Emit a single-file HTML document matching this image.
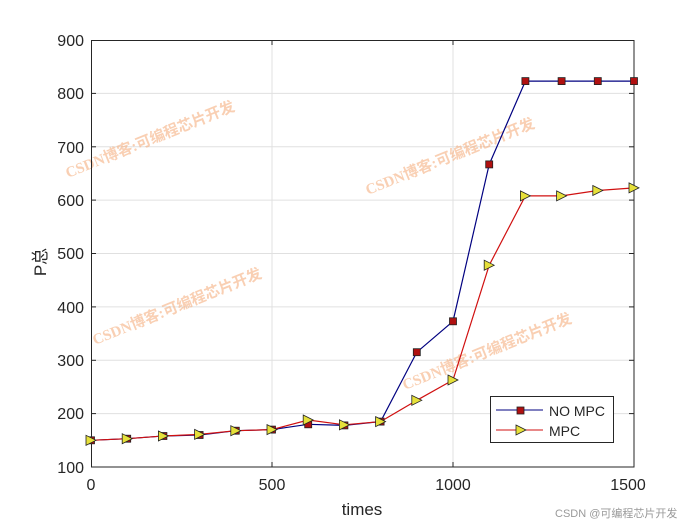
<!DOCTYPE html><html><head><style>body{margin:0;background:#fff}svg{font-family:"Liberation Sans",sans-serif}</style></head><body>
<svg width="700" height="525" xmlns="http://www.w3.org/2000/svg">
<rect width="700" height="525" fill="#fff"/>
<g stroke="#e0e0e0" stroke-width="1">
<line x1="272" y1="40" x2="272" y2="467"/><line x1="453" y1="40" x2="453" y2="467"/>
<line x1="91" y1="93.4" x2="634" y2="93.4"/><line x1="91" y1="146.8" x2="634" y2="146.8"/><line x1="91" y1="200.1" x2="634" y2="200.1"/><line x1="91" y1="253.5" x2="634" y2="253.5"/><line x1="91" y1="306.9" x2="634" y2="306.9"/><line x1="91" y1="360.3" x2="634" y2="360.3"/><line x1="91" y1="413.6" x2="634" y2="413.6"/>
</g>
<g fill="#f5b080" opacity="0.6" font-size="15" font-weight="bold" font-family="'Liberation Serif','Noto Sans CJK SC',serif">
<text transform="translate(68,178) rotate(-22)">CSDN博客:可编程芯片开发</text>
<text transform="translate(368,195) rotate(-22)">CSDN博客:可编程芯片开发</text>
<text transform="translate(95,345) rotate(-22)">CSDN博客:可编程芯片开发</text>
<text transform="translate(405,390) rotate(-22)">CSDN博客:可编程芯片开发</text>
</g>
<rect x="91.5" y="40.5" width="542.5" height="426.5" fill="none" stroke="#262626"/>
<g stroke="#262626"><line x1="272" y1="467" x2="272" y2="462"/><line x1="453" y1="467" x2="453" y2="462"/><line x1="272" y1="40" x2="272" y2="45"/><line x1="453" y1="40" x2="453" y2="45"/>
<line x1="91" y1="93.4" x2="96" y2="93.4"/><line x1="91" y1="146.8" x2="96" y2="146.8"/><line x1="91" y1="200.1" x2="96" y2="200.1"/><line x1="91" y1="253.5" x2="96" y2="253.5"/><line x1="91" y1="306.9" x2="96" y2="306.9"/><line x1="91" y1="360.3" x2="96" y2="360.3"/><line x1="91" y1="413.6" x2="96" y2="413.6"/>
<line x1="634" y1="93.4" x2="629" y2="93.4"/><line x1="634" y1="146.8" x2="629" y2="146.8"/><line x1="634" y1="200.1" x2="629" y2="200.1"/><line x1="634" y1="253.5" x2="629" y2="253.5"/><line x1="634" y1="306.9" x2="629" y2="306.9"/><line x1="634" y1="360.3" x2="629" y2="360.3"/><line x1="634" y1="413.6" x2="629" y2="413.6"/></g>
<g font-size="16" fill="#262626" text-anchor="end">
<text x="84" y="46">900</text><text x="84" y="99">800</text><text x="84" y="153">700</text><text x="84" y="206">600</text><text x="84" y="259">500</text><text x="84" y="313">400</text><text x="84" y="366">300</text><text x="84" y="419">200</text><text x="84" y="473">100</text></g>
<g font-size="16" fill="#262626" text-anchor="middle"><text x="91" y="490">0</text><text x="272" y="490">500</text><text x="453" y="490">1000</text><text x="628" y="490">1500</text>
<text x="362" y="515" font-size="17">times</text></g>
<text transform="translate(46,262) rotate(-90)" font-size="17" fill="#262626" text-anchor="middle" font-family="'Liberation Sans','Noto Sans CJK SC',sans-serif">P总</text>
<polyline fill="none" stroke="#000080" stroke-width="1.2" points="91,440.3 127.2,438.7 163.4,436 199.6,435 235.8,430.7 272,429.6 308.2,424.3 344.4,425.4 380.6,421.6 416.8,352.2 453,321.3 489.2,164.4 525.4,81.1 561.6,81.1 597.8,81.1 634,81.1"/>
<polyline fill="none" stroke="#d01010" stroke-width="1.2" points="91,440.3 127.2,438.7 163.4,436 199.6,434.4 235.8,430.7 272,429.6 308.2,420 344.4,424.8 380.6,421.6 416.8,400.3 453,380 489.2,265.2 525.4,195.9 561.6,195.9 597.8,190.5 634,187.9"/>
<g fill="#b01010" stroke="#222" stroke-width="0.8">
<rect x="87.5" y="436.8" width="7" height="7"/><rect x="123.7" y="435.2" width="7" height="7"/><rect x="159.9" y="432.5" width="7" height="7"/><rect x="196.1" y="431.5" width="7" height="7"/><rect x="232.3" y="427.2" width="7" height="7"/><rect x="268.5" y="426.1" width="7" height="7"/><rect x="304.7" y="420.8" width="7" height="7"/><rect x="340.9" y="421.9" width="7" height="7"/><rect x="377.1" y="418.1" width="7" height="7"/><rect x="413.3" y="348.7" width="7" height="7"/><rect x="449.5" y="317.8" width="7" height="7"/><rect x="485.7" y="160.9" width="7" height="7"/><rect x="521.9" y="77.6" width="7" height="7"/><rect x="558.1" y="77.6" width="7" height="7"/><rect x="594.3" y="77.6" width="7" height="7"/><rect x="630.5" y="77.6" width="7" height="7"/></g>
<g fill="#e6e03a" stroke="#222" stroke-width="0.8">
<path d="M86,435.3 L96,440.3 86,445.3Z"/><path d="M122.2,433.7 L132.2,438.7 122.2,443.7Z"/><path d="M158.4,431 L168.4,436 158.4,441Z"/><path d="M194.6,429.4 L204.6,434.4 194.6,439.4Z"/><path d="M230.8,425.7 L240.8,430.7 230.8,435.7Z"/><path d="M267,424.6 L277,429.6 267,434.6Z"/><path d="M303.2,415 L313.2,420 303.2,425Z"/><path d="M339.4,419.8 L349.4,424.8 339.4,429.8Z"/><path d="M375.6,416.6 L385.6,421.6 375.6,426.6Z"/><path d="M411.8,395.3 L421.8,400.3 411.8,405.3Z"/><path d="M448,375 L458,380 448,385Z"/><path d="M484.2,260.2 L494.2,265.2 484.2,270.2Z"/><path d="M520.4,190.9 L530.4,195.9 520.4,200.9Z"/><path d="M556.6,190.9 L566.6,195.9 556.6,200.9Z"/><path d="M592.8,185.5 L602.8,190.5 592.8,195.5Z"/><path d="M629,182.9 L639,187.9 629,192.9Z"/></g>
<rect x="490.5" y="396.5" width="123" height="46" fill="#fff" stroke="#262626"/>
<line x1="496" y1="410" x2="543" y2="410" stroke="#000080"/><rect x="517" y="407" width="7" height="7" fill="#b01010" stroke="#222" stroke-width="0.8"/>
<line x1="496" y1="430" x2="543" y2="430" stroke="#d01010"/><path d="M516,425 L526,430 516,435Z" fill="#e6e03a" stroke="#222" stroke-width="0.8"/>
<text x="549" y="416" font-size="14" fill="#262626">NO MPC</text><text x="549" y="436" font-size="14" fill="#262626">MPC</text>
<text x="555" y="517" font-size="11" fill="#999" font-family="'Liberation Sans','Noto Sans CJK SC',sans-serif">CSDN @可编程芯片开发</text>
</svg></body></html>
